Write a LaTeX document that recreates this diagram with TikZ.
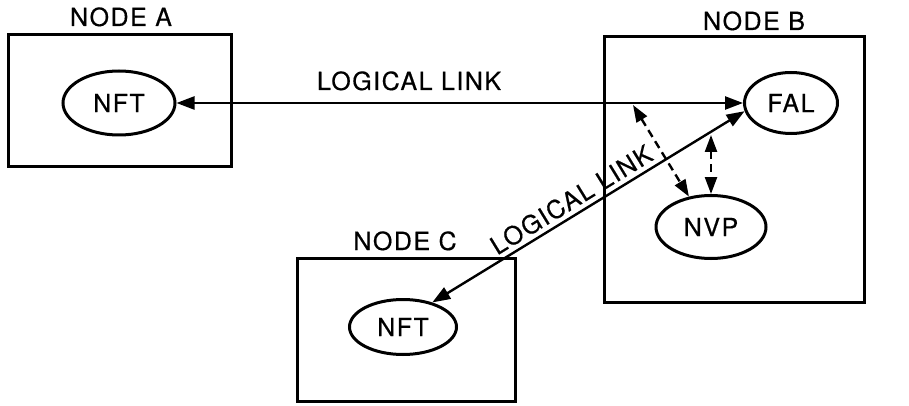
\documentclass[tikz,border=0pt]{standalone}
\usepackage{fontspec}
\setmainfont{TeX Gyre Heros}[LetterSpace=6, FakeBold=0.5]
\usetikzlibrary{arrows.meta,shapes.geometric}
\begin{document}
\begin{tikzpicture}[x=1pt,y=-1pt,
  every node/.style={font=\fontsize{25}{28}\selectfont},
  nodebox/.style={draw, line width=3pt, rectangle, inner sep=0pt},
  proc/.style={draw, line width=3pt, ellipse, inner sep=0pt},
  title/.style={anchor=base},
  tip/.style={Triangle[length=18pt,width=13pt]},
  link/.style={line width=2.4pt, {Triangle[length=18pt,width=13pt]}-{Triangle[length=18pt,width=13pt]}},
  dlink/.style={line width=2.4pt, dash pattern=on 8pt off 5pt, {Triangle[length=17pt,width=12pt]}-{Triangle[length=17pt,width=12pt]}}]
\useasboundingbox (0,0) rectangle (909,406);
% boxes
\node[nodebox, minimum width=223pt, minimum height=132pt] (boxA) at (119.5,101) {};
\node[nodebox, minimum width=260pt, minimum height=265pt] (boxB) at (734,169.5) {};
\node[nodebox, minimum width=218pt, minimum height=143pt] (boxC) at (406,329.5) {};
% titles
\node[title] (tA) at (121,26) {NODE A};
\node[title] (tB) at (754,30) {NODE B};
\node[title] (tC) at (405,250) {NODE C};
% processes
\node[proc, minimum width=112pt, minimum height=64pt] (nfta) at (119,103) {NFT};
\node[proc, minimum width=93pt, minimum height=61pt] (fal) at (791,103) {FAL};
\node[proc, minimum width=110pt, minimum height=63pt] (nvp) at (711,227) {NVP};
\node[proc, minimum width=107pt, minimum height=55pt] (nftc) at (403,327) {NFT};
% links
\draw[link] (nfta.east) -- (fal.west);
\node[title] (l1) at (409,90) {LOGICAL LINK};
\draw[link] (nftc.40) -- node[sloped, above=1pt, pos=0.47] (l2) {LOGICAL LINK} (fal.190);
% dashed
\coordinate (d1) at (633,105);
\coordinate (d2) at (711,135);
\draw[dlink] (d1) -- (nvp.126);
\draw[dlink] (d2) -- (nvp.north);
\end{tikzpicture}
\end{document}
